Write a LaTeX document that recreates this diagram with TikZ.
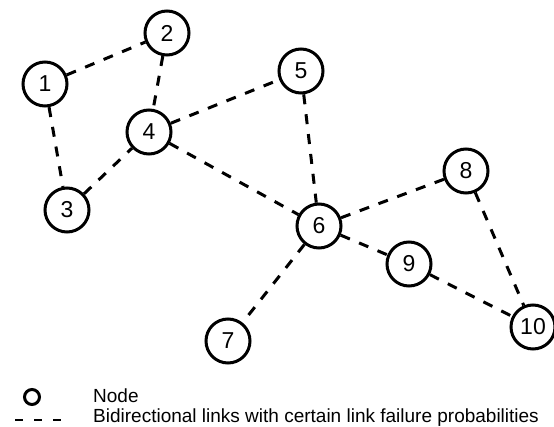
\documentclass[tikz,border=0pt]{standalone}
\usepackage{fontspec}
\setmainfont{Liberation Sans}
\usetikzlibrary{positioning}

\begin{document}
\begin{tikzpicture}[x=1pt, y=-1pt,
  net node/.style={circle, draw, line width=3pt, minimum size=44pt, inner sep=0pt, fill=white,
    font=\fontsize{23}{23}\selectfont},
  link/.style={line width=3pt, dash pattern=on 10pt off 10pt},
  legend text/.style={anchor=west, inner sep=0pt, font=\fontsize{19}{19}\selectfont}]

  \useasboundingbox (0,0) rectangle (554,427);

  % network
  \node [net node] (n1)  at (45,84)   {1};
  \node [net node] (n2)  at (167,33)  {2};
  \node [net node] (n3)  at (67,210)  {3};
  \node [net node] (n4)  at (149,132) {4};
  \node [net node] (n5)  at (301,71)  {5};
  \node [net node] (n6)  at (319,226) {6};
  \node [net node] (n7)  at (228,341) {7};
  \node [net node] (n8)  at (466,171) {8};
  \node [net node] (n9)  at (409,264) {9};
  \node [net node] (n10) at (533,327) {10};

  \draw [link] (n1) -- (n2);
  \draw [link] (n1) -- (n3);
  \draw [link] (n2) -- (n4);
  \draw [link] (n3) -- (n4);
  \draw [link] (n4) -- (n5);
  \draw [link] (n4) -- (n6);
  \draw [link] (n5) -- (n6);
  \draw [link] (n6) -- (n7);
  \draw [link] (n6) -- (n8);
  \draw [link] (n6) -- (n9);
  \draw [link] (n8) -- (n10);
  \draw [link] (n9) -- (n10);

  % legend
  \node [circle, draw, line width=3pt, minimum size=15pt, inner sep=0pt] (keynode) at (32,397) {};
  \node [legend text] (keynodetext) at (93,396) {Node};
  \coordinate (keylinea) at (15,420);
  \coordinate (keylineb) at (63,420);
  \draw [line width=2.6pt, dash pattern=on 8pt off 11pt] (keylinea) -- (keylineb);
  \node [legend text] (keylinetext) at (93,417.5) {Bidirectional links with certain link failure probabilities};
\end{tikzpicture}
\end{document}
